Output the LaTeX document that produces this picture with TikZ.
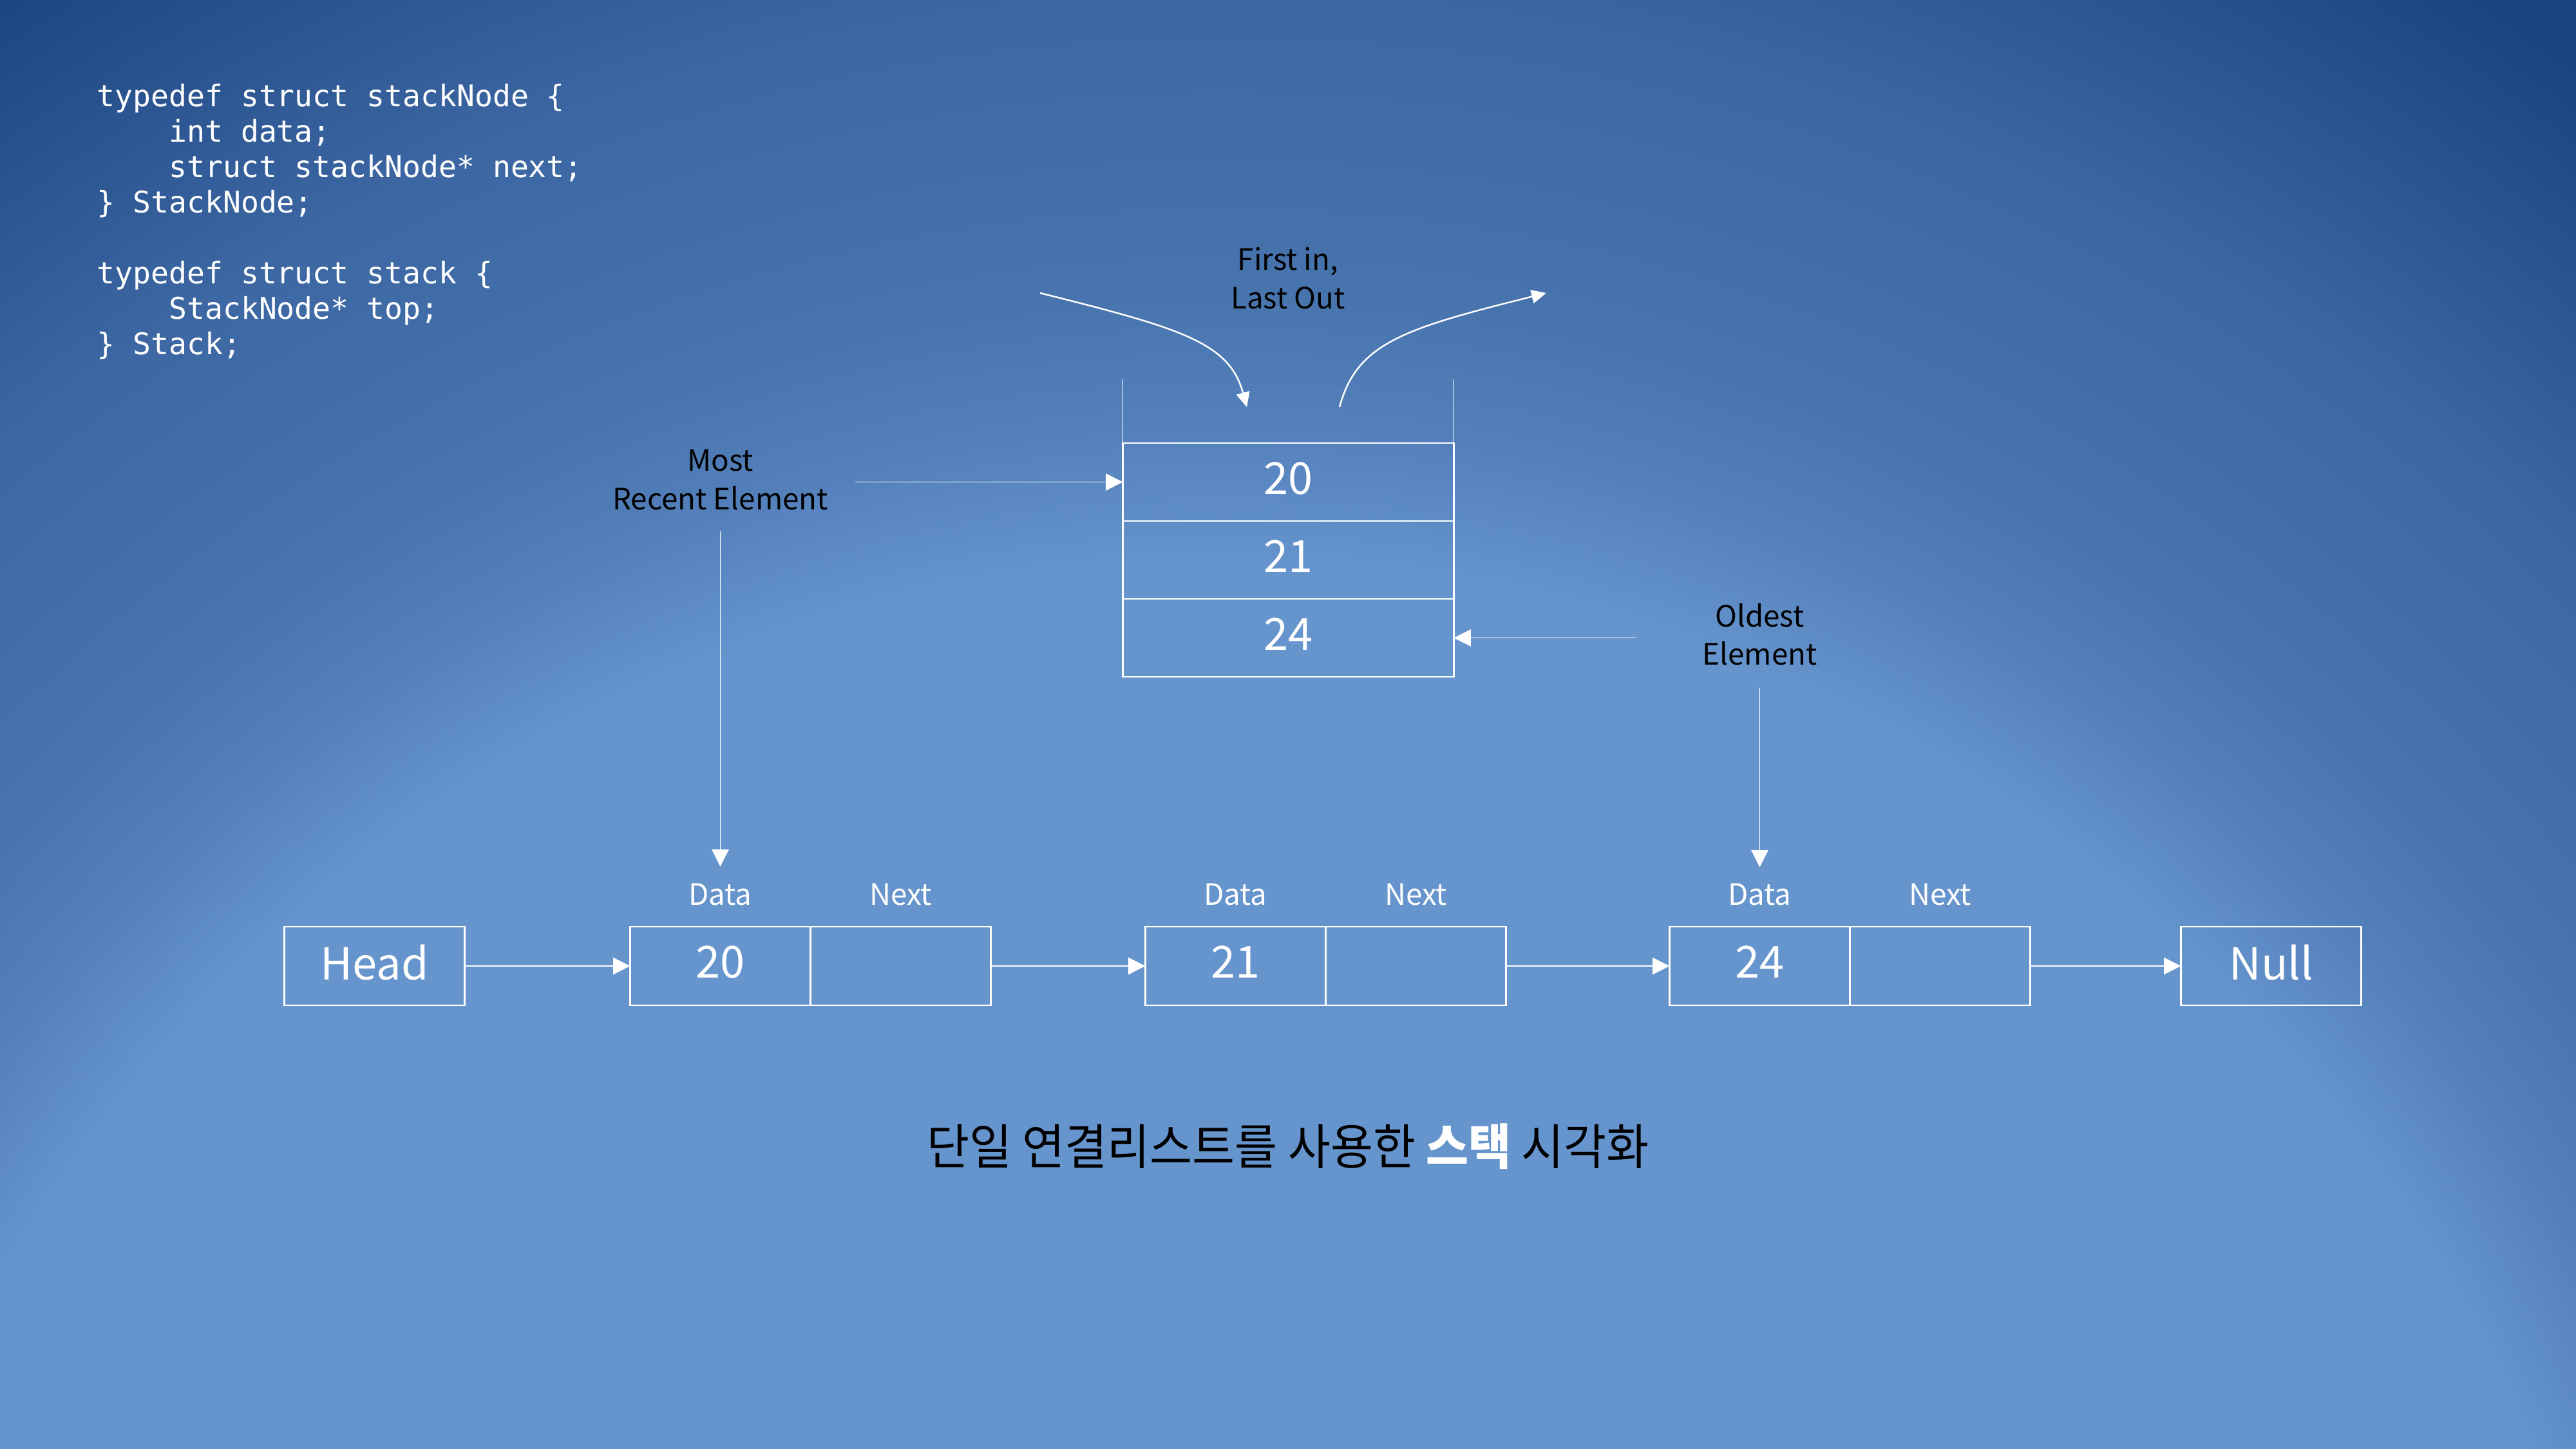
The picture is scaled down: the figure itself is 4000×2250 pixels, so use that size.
\documentclass[tikz,border=0pt]{standalone}
\usepackage{fontspec}
\usepackage{tikz}
\usetikzlibrary{arrows.meta,positioning}
\newfontfamily\krfont{Noto Sans CJK KR}
\newfontfamily\titlefont[FakeStretch=0.95]{Noto Sans CJK KR}
\newfontfamily\codefont{DejaVu Sans Mono}
\definecolor{bglight}{HTML}{6694CD}
\definecolor{bgmida}{HTML}{5380BA}
\definecolor{bgmidb}{HTML}{4874AE}
\definecolor{bgmidc}{HTML}{406CA7}
\definecolor{bgmidd}{HTML}{3C67A3}
\definecolor{bgmide}{HTML}{315B97}
\definecolor{bgdark}{HTML}{1A4380}
\pgfdeclareradialshading{bgglow}{\pgfpointorigin}{%
  color(0bp)=(bglight); color(14.5bp)=(bglight); color(15.9bp)=(bgmida);
  color(17.2bp)=(bgmidb); color(18.75bp)=(bgmidc); color(20bp)=(bgmidd);
  color(21.25bp)=(bgmide); color(23.75bp)=(bgdark); color(50bp)=(bgdark)}
\tikzset{
  listcell/.style = {
    rectangle,
    draw=white,
    line width=0.75pt,
    minimum width=28mm,
    minimum height=12.2mm,
    inner sep=0pt,
    outer sep=0pt,
    text=white,
    text depth=1.2mm,
    font=\krfont\fontsize{19.5}{23}\selectfont
  },
  stackcell/.style = {
    listcell,
    line width=0.6pt,
    minimum width=51.4mm,
    minimum height=12.1mm
  },
  listtag/.style = {
    text=white,
    inner sep=1mm,
    font=\krfont\fontsize{13}{17}\selectfont
  },
  notetext/.style = {
    text=black,
    align=center,
    inner sep=1mm,
    font=\krfont\fontsize{13}{17}\selectfont
  },
  codetext/.style = {
    anchor=north west,
    align=left,
    inner sep=0pt,
    text=white,
    font=\codefont\fontsize{13.2}{15.65}\selectfont
  },
  titletext/.style = {
    text=black,
    inner sep=0pt,
    font=\titlefont\fontsize{21.5}{25}\selectfont
  },
  stackwall/.style = {
    draw=white,
    line width=0.35pt
  },
  linkarrow/.style = {
    -{Triangle[length=7.5pt,width=7.5pt]},
    draw=white,
    line width=0.3pt
  },
  flowarrow/.style = {
    -{Triangle[length=6.5pt,width=6pt]},
    draw=white,
    line width=0.7pt
  }
}
\begin{document}
\begin{tikzpicture}[x=0.1mm,y=-0.1mm]
    \useasboundingbox (0,0) rectangle (4000,2250);
    \begin{scope}
      \clip (0,0) rectangle (4000,2250);
      \shade[shading=bgglow] (-1910,-800) rectangle (5710,7200);
    \end{scope}
    \node[codetext] (src) at (150,130) {typedef struct stackNode \{\\\hphantom{0000}int data;\\\hphantom{0000}struct stackNode* next;\\\} StackNode;\\[15.65pt]typedef struct stack \{\\\hphantom{0000}StackNode* top;\\\} Stack;};
    \node[listcell] (head) at (581.5,1500) {Head};
    \node[listcell, right=25.7mm of head] (d1) {20};
    \node[listcell, right=0pt of d1] (n1) {};
    \node[listcell, right=24mm of n1] (d2) {21};
    \node[listcell, right=0pt of d2] (n2) {};
    \node[listcell, right=25.4mm of n2] (d3) {24};
    \node[listcell, right=0pt of d3] (n3) {};
    \node[listcell, right=23.4mm of n3] (nullbox) {Null};
    \node[listtag, above=2.2mm of d1] (t1) {Data};
    \node[listtag, above=2.2mm of n1] (u1) {Next};
    \node[listtag, above=2.2mm of d2] (t2) {Data};
    \node[listtag, above=2.2mm of n2] (u2) {Next};
    \node[listtag, above=2.2mm of d3] (t3) {Data};
    \node[listtag, above=2.2mm of n3] (u3) {Next};
    \node[stackcell] (s1) at (2000.5,748.5) {20};
    \node[stackcell, below=0pt of s1] (s2) {21};
    \node[stackcell, below=0pt of s2] (s3) {24};
    \draw[stackwall] (s1.north west) -- ++(0,-99);
    \draw[stackwall] (s1.north east) -- ++(0,-99);
    \node[notetext] (fl) at (2000,432) {First in,\\Last Out};
    \node[notetext] (mre) at (1118.5,745) {Most\\Recent Element};
    \node[notetext] (oe) at (2732.5,985) {Oldest\\Element};
    \node[titletext] (title) at (2000,1780) {단일 연결리스트를 사용한 {\bfseries\color{white}스택} 시각화};
    \coordinate (pushin) at (1615,455);
    \coordinate (pushend) at (1936,632);
    \coordinate (popstart) at (2080,632);
    \coordinate (popout) at (2401,455);
    \draw[flowarrow] (pushin) .. controls (1835,510) and (1909,532) .. (pushend);
    \draw[flowarrow] (popstart) .. controls (2107,532) and (2181,510) .. (popout);
    \draw[linkarrow, shorten <=3.1mm] (mre.east |- s1.west) -- (s1.west);
    \draw[linkarrow, shorten <=2.2mm, shorten >=1.6mm] (t1.north |- mre.south) -- (t1.north);
    \draw[linkarrow, shorten <=9.2mm] (oe.west |- s3.east) -- (s3.east);
    \draw[linkarrow, shorten <=2.4mm, shorten >=1.5mm] (t3.north |- oe.south) -- (t3.north);
    \draw[linkarrow] (head) -- (d1);
    \draw[linkarrow] (n1) -- (d2);
    \draw[linkarrow] (n2) -- (d3);
    \draw[linkarrow] (n3) -- (nullbox);
  \end{tikzpicture}
\end{document}
